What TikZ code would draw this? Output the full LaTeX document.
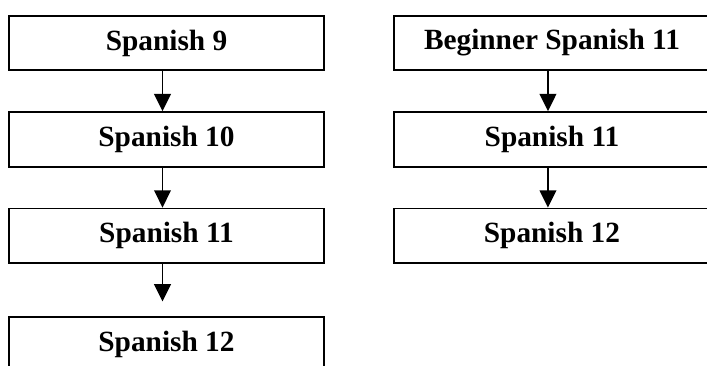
\documentclass[tikz,border=0pt]{standalone}
\usepackage{fontspec}
\setmainfont{Liberation Serif}
\usepackage{tikz}
\usetikzlibrary{arrows.meta,positioning}

\begin{document}
\begin{tikzpicture}[
  x=0.75pt,y=-0.75pt,
  node distance=30pt,
  box/.style={draw=black,line width=1.3pt,minimum width=236.5pt,minimum height=41pt,
    inner sep=0pt,align=center,font=\fontsize{22}{26}\selectfont\bfseries},
  arrow/.style={-{Triangle[length=13pt,width=12.5pt]},line width=1.4pt}
]
\useasboundingbox (0,0) rectangle (707,365);
\clip (0,0) rectangle (707,365);
% left column
\node[box] (sp9) at (166.5,43) {Spanish 9};
\node[box,below=of sp9] (sp10) {Spanish 10};
\node[box,below=of sp10] (sp11) {Spanish 11};
\node[box,below=39pt of sp11] (sp12) {Spanish 12};
% right column
\node[box,right=51.3pt of sp9] (beg11) {Beginner Spanish 11};
\node[box,below=of beg11] (rsp11) {Spanish 11};
\node[box,below=of rsp11] (rsp12) {Spanish 12};
\draw[arrow] ([xshift=-3pt]sp9.south) -- ([xshift=-3pt]sp10.north);
\draw[arrow] ([xshift=-3pt]sp10.south) -- ([xshift=-3pt]sp11.north);
\draw[arrow] ([xshift=-3pt]sp11.south) -- ([xshift=-3pt]sp11.south |- 0,301.5);
\draw[arrow] ([xshift=-3pt]beg11.south) -- ([xshift=-3pt]rsp11.north);
\draw[arrow] ([xshift=-3pt]rsp11.south) -- ([xshift=-3pt]rsp12.north);
\end{tikzpicture}
\end{document}
